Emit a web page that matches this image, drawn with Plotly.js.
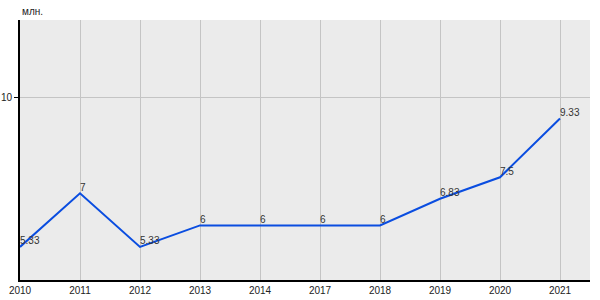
<!DOCTYPE html>
<html>
<head>
<meta charset="utf-8">
<script src="https://cdn.plot.ly/plotly-3.0.1.min.js"></script>
<style>html,body{margin:0;padding:0;background:#fff;}#chart{width:600px;height:300px;}</style>
</head>
<body>
<div id="chart"></div>
<script>
var years = ['2010','2011','2012','2013','2014','2017','2018','2019','2020','2021'];
var values = [5.33, 7, 5.33, 6, 6, 6, 6, 6.83, 7.5, 9.33];
var yTicks = [10];
var unitLabel = 'млн.';

var trace = {
  x: years,
  y: values,
  type: 'scatter',
  mode: 'lines+text',
  text: values.map(function(v){ return String(v); }),
  textposition: 'top right',
  textfont: {family: 'Liberation Sans, Arial, sans-serif', size: 10, color: '#333'},
  line: {color: '#0a4de0', width: 2},
  hoverinfo: 'none',
  cliponaxis: false
};

var layout = {
  width: 600, height: 300,
  margin: {l: 20, r: 10, t: 20, b: 20},
  paper_bgcolor: '#ffffff',
  plot_bgcolor: '#ebebeb',
  showlegend: false,
  font: {family: 'Liberation Sans, Arial, sans-serif', size: 10, color: '#222'},
  xaxis: {
    type: 'category',
    range: [0, 9.5],
    showgrid: true, gridcolor: '#c4c4c4', gridwidth: 1,
    showline: true, linecolor: '#000', linewidth: 2,
    ticks: '', tickfont: {size: 10, color: '#222'},
    zeroline: false, fixedrange: true
  },
  yaxis: {
    range: [4.3, 12.4],
    tickvals: yTicks,
    ticktext: yTicks.map(String),
    showgrid: true, gridcolor: '#c4c4c4', gridwidth: 1,
    showline: true, linecolor: '#000', linewidth: 2,
    ticks: 'outside', ticklen: 4, tickcolor: '#000',
    tickfont: {size: 10, color: '#222'},
    zeroline: false, fixedrange: true
  },
  annotations: [{
    text: unitLabel, xref: 'paper', yref: 'paper', x: 0, y: 1,
    xanchor: 'left', yanchor: 'bottom', yshift: 1, showarrow: false,
    font: {size: 10, color: '#222'}
  }]
};

Plotly.newPlot('chart', [trace], layout, {displayModeBar: false, staticPlot: true});
</script>
</body>
</html>
